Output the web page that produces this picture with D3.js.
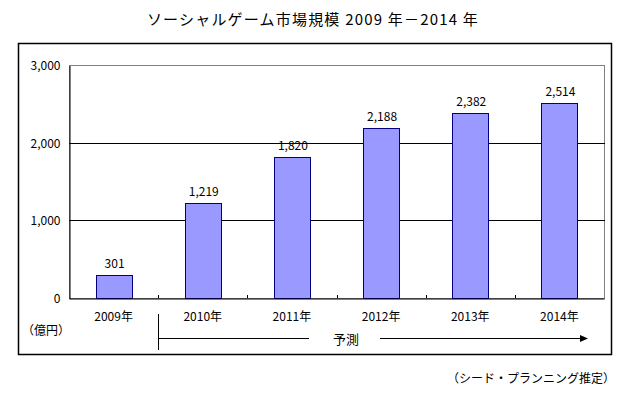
<!DOCTYPE html>
<meta charset="utf-8">
<script src="https://d3js.org/d3.v7.min.js"></script>
<style>
    body { margin: 0; background: #fff; }
    text { font-family: "Noto Sans CJK JP", sans-serif; fill: #000; }
</style>
<body>
<div id="my_dataviz"></div>
</body>
<script>
    // data
    const years = ["2009年", "2010年", "2011年", "2012年", "2013年", "2014年"];
    const marketSize = [301, 1219, 1820, 2188, 2382, 2514];
    const yTicks = [0, 1000, 2000, 3000];

    const title = "ソーシャルゲーム市場規模 2009 年－2014 年";
    const unitLabel = "（億円）";
    const forecastLabel = "予測";
    const sourceLabel = "（シード・プランニング推定）";

    let width = 626, height = 394;
    let plot = {left: 69, right: 604, top: 65, bottom: 298};

    var svg = d3.select("#my_dataviz")
        .append("svg")
        .attr("width", width)
        .attr("height", height);

    // outer frame
    svg.append("rect")
        .attr("x", 18.5).attr("y", 43.5)
        .attr("width", 593).attr("height", 311)
        .attr("fill", "none")
        .attr("stroke", "#000")
        .attr("stroke-width", 1.5);

    svg.append("text")
        .attr("x", 313).attr("y", 25)
        .attr("text-anchor", "middle")
        .style("font-size", "15px")
        .style("letter-spacing", "1.2px")
        .text(title);

    var x = d3.scaleBand()
        .domain(years)
        .range([plot.left, plot.right]);

    var y = d3.scaleLinear()
        .domain([0, 3000])
        .range([plot.bottom, plot.top]);

    // plot area border (gray)
    svg.append("rect")
        .attr("x", plot.left + 0.5).attr("y", plot.top + 0.5)
        .attr("width", plot.right - plot.left).attr("height", plot.bottom - plot.top)
        .attr("fill", "none")
        .attr("stroke", "#808080");

    // gridlines
    svg.selectAll(".grid")
        .data(yTicks.filter(d => d > 0 && d < 3000))
        .enter()
        .append("line")
        .attr("x1", plot.left).attr("x2", plot.right + 1)
        .attr("y1", d => Math.round(y(d)) + 0.5)
        .attr("y2", d => Math.round(y(d)) + 0.5)
        .attr("stroke", "#000");

    // y axis
    var yAxis = svg.append("g")
        .attr("transform", "translate(" + (plot.left + 0.5) + ",0.5)")
        .call(d3.axisLeft(y).tickValues(yTicks).tickSize(0).tickPadding(9)
            .tickFormat(d3.format(",")));
    yAxis.select(".domain").attr("stroke", "#000");
    yAxis.selectAll("text").style("font-size", "12px")
        .style("font-family", "'Noto Sans CJK JP', sans-serif");

    // bars
    var barW = 36;
    svg.selectAll(".bar")
        .data(marketSize)
        .enter()
        .append("rect")
        .attr("x", (d, i) => Math.round(x(years[i]) + x.bandwidth() / 2 - barW / 2) + 0.5)
        .attr("y", d => Math.round(y(d)) + 0.5)
        .attr("width", barW)
        .attr("height", d => plot.bottom - Math.round(y(d)))
        .attr("fill", "#9999ff")
        .attr("stroke", "#000080");

    svg.selectAll(".val")
        .data(marketSize)
        .enter()
        .append("text")
        .attr("x", (d, i) => x(years[i]) + x.bandwidth() / 2 + 1)
        .attr("y", d => y(d) - 7)
        .attr("text-anchor", "middle")
        .style("font-size", "12px")
        .text(d => d3.format(",")(d));

    // x axis
    var xAxis = svg.append("g")
        .attr("transform", "translate(0," + (plot.bottom + 0.5) + ")")
        .call(d3.axisBottom(x).tickSize(0).tickPadding(14));
    xAxis.select(".domain").attr("stroke", "#000");
    xAxis.selectAll("text").style("font-size", "12px")
        .style("font-family", "'Noto Sans CJK JP', sans-serif");

    // category separators (small upward ticks)
    svg.selectAll(".sep")
        .data(years.slice(1))
        .enter()
        .append("line")
        .attr("x1", d => Math.round(x(d)) + 0.5)
        .attr("x2", d => Math.round(x(d)) + 0.5)
        .attr("y1", plot.bottom - 3).attr("y2", plot.bottom)
        .attr("stroke", "#000");

    svg.append("text")
        .attr("x", 22).attr("y", 335)
        .style("font-size", "12px")
        .text(unitLabel);

    // forecast arrow
    var fx = Math.round(x(years[1])) + 0.5;
    var ay = 338.5;
    svg.append("line")
        .attr("x1", fx).attr("x2", fx)
        .attr("y1", 314).attr("y2", 350)
        .attr("stroke", "#000");
    svg.append("line")
        .attr("x1", fx).attr("x2", 309)
        .attr("y1", ay).attr("y2", ay)
        .attr("stroke", "#000");
    svg.append("text")
        .attr("x", 346).attr("y", 344)
        .attr("text-anchor", "middle")
        .style("font-size", "13px")
        .text(forecastLabel);
    svg.append("line")
        .attr("x1", 380).attr("x2", 582)
        .attr("y1", ay).attr("y2", ay)
        .attr("stroke", "#000");
    svg.append("path")
        .attr("d", "M580," + (ay - 3.5) + "L588," + ay + "L580," + (ay + 3.5) + "Z")
        .attr("fill", "#000");

    svg.append("text")
        .attr("x", 615).attr("y", 383)
        .attr("text-anchor", "end")
        .style("font-size", "12px")
        .text(sourceLabel);
</script>
</html>
